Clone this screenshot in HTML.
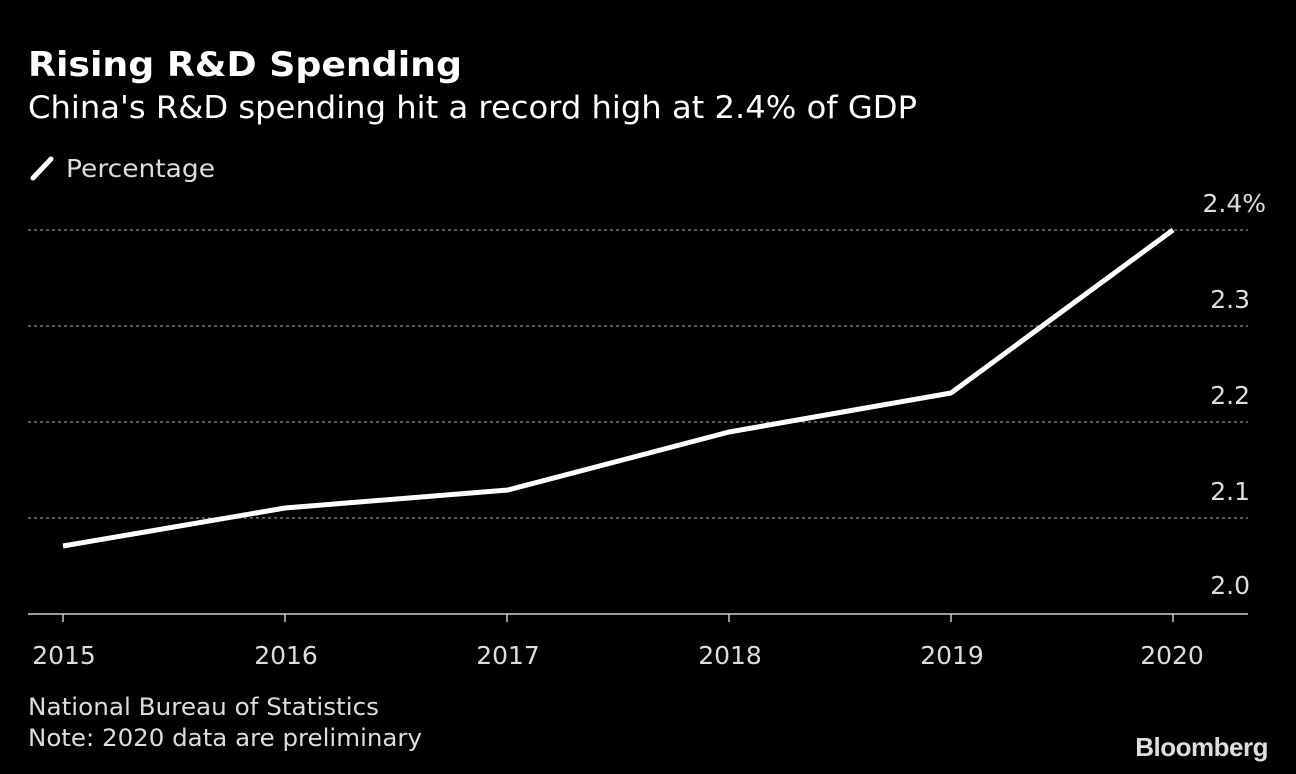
<!DOCTYPE html>
<html><head><style>
body{margin:0;background:#000;width:1296px;height:774px;overflow:hidden;font-family:"Liberation Sans","DejaVu Sans",sans-serif;}
</style></head><body>
<svg width="1296" height="774" xmlns="http://www.w3.org/2000/svg" style="display:block">
<rect width="1296" height="774" fill="#000"/>
<text x="28" y="76" fill="#fff" font-family="DejaVu Sans, Liberation Sans, sans-serif" font-weight="bold" font-size="34" textLength="434" lengthAdjust="spacingAndGlyphs">Rising R&amp;D Spending</text>
<text x="28" y="118" fill="#fff" font-family="DejaVu Sans, Liberation Sans, sans-serif" font-size="31" textLength="889" lengthAdjust="spacingAndGlyphs">China's R&amp;D spending hit a record high at 2.4% of GDP</text>
<line x1="33" y1="178" x2="51" y2="159" stroke="#fff" stroke-width="5" stroke-linecap="round"/>
<text x="66" y="177" fill="#ddd" font-family="DejaVu Sans, Liberation Sans, sans-serif" font-size="25" textLength="149" lengthAdjust="spacingAndGlyphs">Percentage</text>
<g stroke="#888" stroke-width="1.2" stroke-dasharray="3,3">
<line x1="28" y1="230" x2="1248" y2="230"/>
<line x1="28" y1="326" x2="1248" y2="326"/>
<line x1="28" y1="422" x2="1248" y2="422"/>
<line x1="28" y1="518" x2="1248" y2="518"/>
</g>
<line x1="28" y1="614" x2="1248" y2="614" stroke="#ccc" stroke-width="1.5"/>
<g stroke="#ccc" stroke-width="1.5">
<line x1="63" y1="614" x2="63" y2="622"/><line x1="285" y1="614" x2="285" y2="622"/><line x1="507" y1="614" x2="507" y2="622"/><line x1="729" y1="614" x2="729" y2="622"/><line x1="951" y1="614" x2="951" y2="622"/><line x1="1173" y1="614" x2="1173" y2="622"/>
</g>
<g fill="#ddd" font-family="DejaVu Sans, Liberation Sans, sans-serif" font-size="25" text-anchor="end">
<text x="1266" y="212">2.4%</text>
<text x="1250" y="308">2.3</text>
<text x="1250" y="404">2.2</text>
<text x="1250" y="500">2.1</text>
<text x="1250" y="594">2.0</text>
</g>
<g fill="#ddd" font-family="DejaVu Sans, Liberation Sans, sans-serif" font-size="25" text-anchor="middle">
<text x="64" y="664">2015</text><text x="286" y="664">2016</text><text x="508" y="664">2017</text><text x="730" y="664">2018</text><text x="952" y="664">2019</text><text x="1172" y="664">2020</text>
</g>
<polyline points="63,546 285,508 508,490 729,432 951,393 1173,230" fill="none" stroke="#fff" stroke-width="5" stroke-linejoin="round"/>
<g fill="#ddd" font-family="DejaVu Sans, Liberation Sans, sans-serif" font-size="24">
<text x="28" y="715" textLength="351" lengthAdjust="spacingAndGlyphs">National Bureau of Statistics</text>
<text x="28" y="746" textLength="394" lengthAdjust="spacingAndGlyphs">Note: 2020 data are preliminary</text>
</g>
<text x="1268" y="756" fill="#ddd" font-family="Liberation Sans, sans-serif" font-weight="bold" font-size="26" text-anchor="end" letter-spacing="-0.5">Bloomberg</text>
</svg>
</body></html>
